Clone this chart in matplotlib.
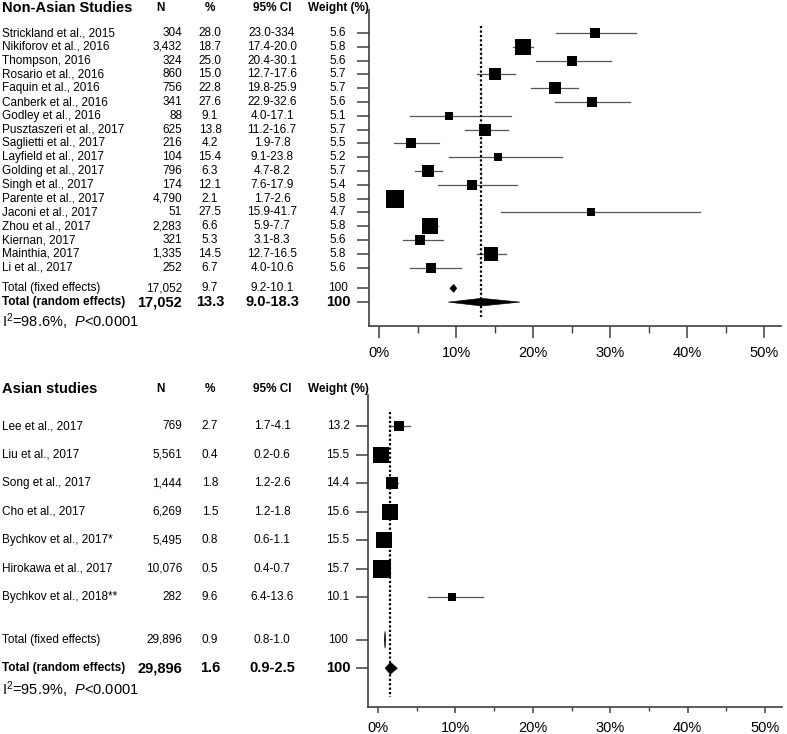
import matplotlib
matplotlib.use('Agg')
import matplotlib.pyplot as plt
from matplotlib.patches import Polygon
from matplotlib.transforms import blended_transform_factory

plt.rcParams['font.family'] = ['Liberation Sans', 'DejaVu Sans']
plt.rcParams['mathtext.fontset'] = 'custom'
plt.rcParams['mathtext.rm'] = 'Liberation Sans'
plt.rcParams['mathtext.it'] = 'Liberation Sans:italic'

######## data ########
top_names = ["Strickland et al., 2015", "Nikiforov et al., 2016", "Thompson, 2016",
             "Rosario et al., 2016", "Faquin et al., 2016", "Canberk et al., 2016",
             "Godley et al., 2016", "Pusztaszeri et al., 2017", "Saglietti et al., 2017",
             "Layfield et al., 2017", "Golding et al., 2017", "Singh et al., 2017",
             "Parente et al., 2017", "Jaconi et al., 2017", "Zhou et al., 2017",
             "Kiernan, 2017", "Mainthia, 2017", "Li et al., 2017"]
top_n = [304, 3432, 324, 860, 756, 341, 88, 625, 216, 104, 796, 174, 4790, 51, 2283, 321, 1335, 252]
top_pct = [28.0, 18.7, 25.0, 15.0, 22.8, 27.6, 9.1, 13.8, 4.2, 15.4, 6.3, 12.1, 2.1, 27.5, 6.6, 5.3, 14.5, 6.7]
top_lo = [23.0, 17.4, 20.4, 12.7, 19.8, 22.9, 4.0, 11.2, 1.9, 9.1, 4.7, 7.6, 1.7, 15.9, 5.9, 3.1, 12.7, 4.0]
top_hi = [33.4, 20.0, 30.1, 17.6, 25.9, 32.6, 17.1, 16.7, 7.8, 23.8, 8.2, 17.9, 2.6, 41.7, 7.7, 8.3, 16.5, 10.6]
top_ci = ["23.0-334", "17.4-20.0", "20.4-30.1", "12.7-17.6", "19.8-25.9", "22.9-32.6",
          "4.0-17.1", "11.2-16.7", "1.9-7.8", "9.1-23.8", "4.7-8.2", "7.6-17.9",
          "1.7-2.6", "15.9-41.7", "5.9-7.7", "3.1-8.3", "12.7-16.5", "4.0-10.6"]
top_w = [5.6, 5.8, 5.6, 5.7, 5.7, 5.6, 5.1, 5.7, 5.5, 5.2, 5.7, 5.4, 5.8, 4.7, 5.8, 5.6, 5.8, 5.6]
# total rows: N, %, low, high, weight
top_fixed = [17052, 9.7, 9.2, 10.1, 100]
top_random = [17052, 13.3, 9.0, 18.3, 100]
top_i2 = "I$^2$=98.6%,  $\\mathit{P}$<0.0001"

bot_names = ["Lee et al., 2017", "Liu et al., 2017", "Song et al., 2017", "Cho et al., 2017",
             "Bychkov et al., 2017*", "Hirokawa et al., 2017", "Bychkov et al., 2018**"]
bot_n = [769, 5561, 1444, 6269, 5495, 10076, 282]
bot_pct = [2.7, 0.4, 1.8, 1.5, 0.8, 0.5, 9.6]
bot_lo = [1.7, 0.2, 1.2, 1.2, 0.6, 0.4, 6.4]
bot_hi = [4.1, 0.6, 2.6, 1.8, 1.1, 0.7, 13.6]
bot_ci = ["1.7-4.1", "0.2-0.6", "1.2-2.6", "1.2-1.8", "0.6-1.1", "0.4-0.7", "6.4-13.6"]
bot_w = [13.2, 15.5, 14.4, 15.6, 15.5, 15.7, 10.1]
bot_fixed = [29896, 0.9, 0.8, 1.0, 100]
bot_random = [29896, 1.6, 0.9, 2.5, 100]
bot_i2 = "I$^2$=95.9%,  $\\mathit{P}$<0.0001"

major_ticks = [0, 10, 20, 30, 40, 50]
minor_ticks = [5, 15, 25, 35, 45]

W, H = 787, 734
fig = plt.figure(figsize=(W / 100, H / 100), dpi=100)

SPINE = '#404040'
FS = 8.5      # table text
FS_BIG = 10.5  # titles, bold totals


def px(x):
    return x / W


def panel(rect, title, names, n, pct, lo, hi, ci, w, fixed, random, i2,
          ylim, hdr_y, dot_top, dot_bot, sq_scale, dia_h_fixed, dia_h_rand, i2_y,
          xtick_len):
    ax = fig.add_axes(rect)
    k = len(names)
    rows = list(range(k))
    y_fixed = k - 1 + 1.5
    y_rand = y_fixed + 1

    # CI lines and squares
    for i in rows:
        ax.plot([lo[i], hi[i]], [i, i], color='#555555', lw=0.9, zorder=2)
        side = sq_scale * n[i] ** 0.2 * 0.72
        ax.plot(pct[i], i, marker='s', ms=side, color='black', mew=0, zorder=3)

    # pooled diamonds
    for tot, yy, hh in [(fixed, y_fixed, dia_h_fixed), (random, y_rand, dia_h_rand)]:
        est, l, h = tot[1], tot[2], tot[3]
        ax.add_patch(Polygon([[l, yy], [est, yy - hh], [h, yy], [est, yy + hh]],
                             closed=True, facecolor='black', edgecolor='black',
                             lw=0.4, zorder=3))

    ax.plot([random[1], random[1]], [dot_top, dot_bot], color='black', lw=1.6,
            linestyle=(0, (1, 1)), zorder=4)

    ax.set_xlim(-1.3, 52.2)
    ax.set_ylim(ylim[1], ylim[0])
    ax.set_xticks(major_ticks)
    ax.set_xticklabels([f"{t}%" for t in major_ticks], fontsize=FS_BIG)
    ax.set_xticks(minor_ticks, minor=True)
    ax.set_yticks(rows + [y_fixed, y_rand])
    ax.set_yticklabels([])
    for s in ['top', 'right']:
        ax.spines[s].set_visible(False)
    for s in ['left', 'bottom']:
        ax.spines[s].set_color(SPINE)
        ax.spines[s].set_linewidth(1.2)
    ax.tick_params(axis='x', which='major', length=xtick_len[0], width=1.1, color=SPINE, pad=6)
    ax.tick_params(axis='x', which='minor', length=xtick_len[1], width=1.0, color=SPINE)
    ax.tick_params(axis='y', length=8.6, width=1.1, color=SPINE)

    # table text
    tr = blended_transform_factory(fig.transFigure, ax.transData)
    kw = dict(transform=tr, va='center', clip_on=False)
    ax.text(px(2), hdr_y, title, fontsize=FS_BIG, fontweight='bold', ha='left', **kw)
    ax.text(px(160), hdr_y, "N", fontsize=FS, fontweight='bold', ha='center', **kw)
    ax.text(px(210), hdr_y, "%", fontsize=FS, fontweight='bold', ha='center', **kw)
    ax.text(px(272), hdr_y, "95% CI", fontsize=FS, fontweight='bold', ha='center', **kw)
    ax.text(px(338), hdr_y, "Weight (%)", fontsize=FS, fontweight='bold', ha='center', **kw)

    for i in rows:
        ax.text(px(2), i, names[i], fontsize=FS, ha='left', **kw)
        ax.text(px(182), i, f"{n[i]:,}", fontsize=FS, ha='right', **kw)
        ax.text(px(210), i, f"{pct[i]:.1f}", fontsize=FS, ha='center', **kw)
        ax.text(px(272), i, ci[i], fontsize=FS, ha='center', **kw)
        ax.text(px(338), i, f"{w[i]:.1f}", fontsize=FS, ha='center', **kw)

    ax.text(px(2), y_fixed, "Total (fixed effects)", fontsize=FS, ha='left', **kw)
    ax.text(px(182), y_fixed, f"{fixed[0]:,}", fontsize=FS, ha='right', **kw)
    ax.text(px(210), y_fixed, f"{fixed[1]:.1f}", fontsize=FS, ha='center', **kw)
    ax.text(px(272), y_fixed, f"{fixed[2]:.1f}-{fixed[3]:.1f}", fontsize=FS, ha='center', **kw)
    ax.text(px(338), y_fixed, f"{fixed[4]}", fontsize=FS, ha='center', **kw)

    ax.text(px(2), y_rand, "Total (random effects)", fontsize=FS, fontweight='bold', ha='left', **kw)
    ax.text(px(182), y_rand, f"{random[0]:,}", fontsize=FS_BIG, fontweight='bold', ha='right', **kw)
    ax.text(px(210), y_rand, f"{random[1]:.1f}", fontsize=FS_BIG, fontweight='bold', ha='center', **kw)
    ax.text(px(272), y_rand, f"{random[2]:.1f}-{random[3]:.1f}", fontsize=FS_BIG,
            fontweight='bold', ha='center', **kw)
    ax.text(px(338), y_rand, f"{random[4]}", fontsize=FS_BIG, fontweight='bold', ha='center', **kw)

    ax.text(px(2), i2_y, i2, fontsize=FS_BIG, ha='left', **kw)
    return ax


# top panel: rows 13.8 px apart, axes from y=10 to y=326 px
panel([px(369), 1 - 326 / H, px(781 - 369), (326 - 10) / H],
      "Non-Asian Studies", top_names, top_n, top_pct, top_lo, top_hi, top_ci, top_w,
      top_fixed, top_random, top_i2,
      ylim=(-1.67, 21.23), hdr_y=-1.82, dot_top=-0.5, dot_bot=20.6,
      sq_scale=3.3, dia_h_fixed=0.29, dia_h_rand=0.28, i2_y=20.95,
      xtick_len=(8.6, 5))

# bottom panel: rows 28.5 px apart, axes from y=395 to y=707 px
panel([px(368), 1 - 707 / H, px(782 - 368), (707 - 395) / H],
      "Asian studies", bot_names, bot_n, bot_pct, bot_lo, bot_hi, bot_ci, bot_w,
      bot_fixed, bot_random, bot_i2,
      ylim=(-1.09, 9.86), hdr_y=-1.3, dot_top=-0.5, dot_bot=9.5,
      sq_scale=2.8, dia_h_fixed=0.3, dia_h_rand=0.21, i2_y=9.27,
      xtick_len=(4, 3))

fig.savefig('out.png', dpi=100)
